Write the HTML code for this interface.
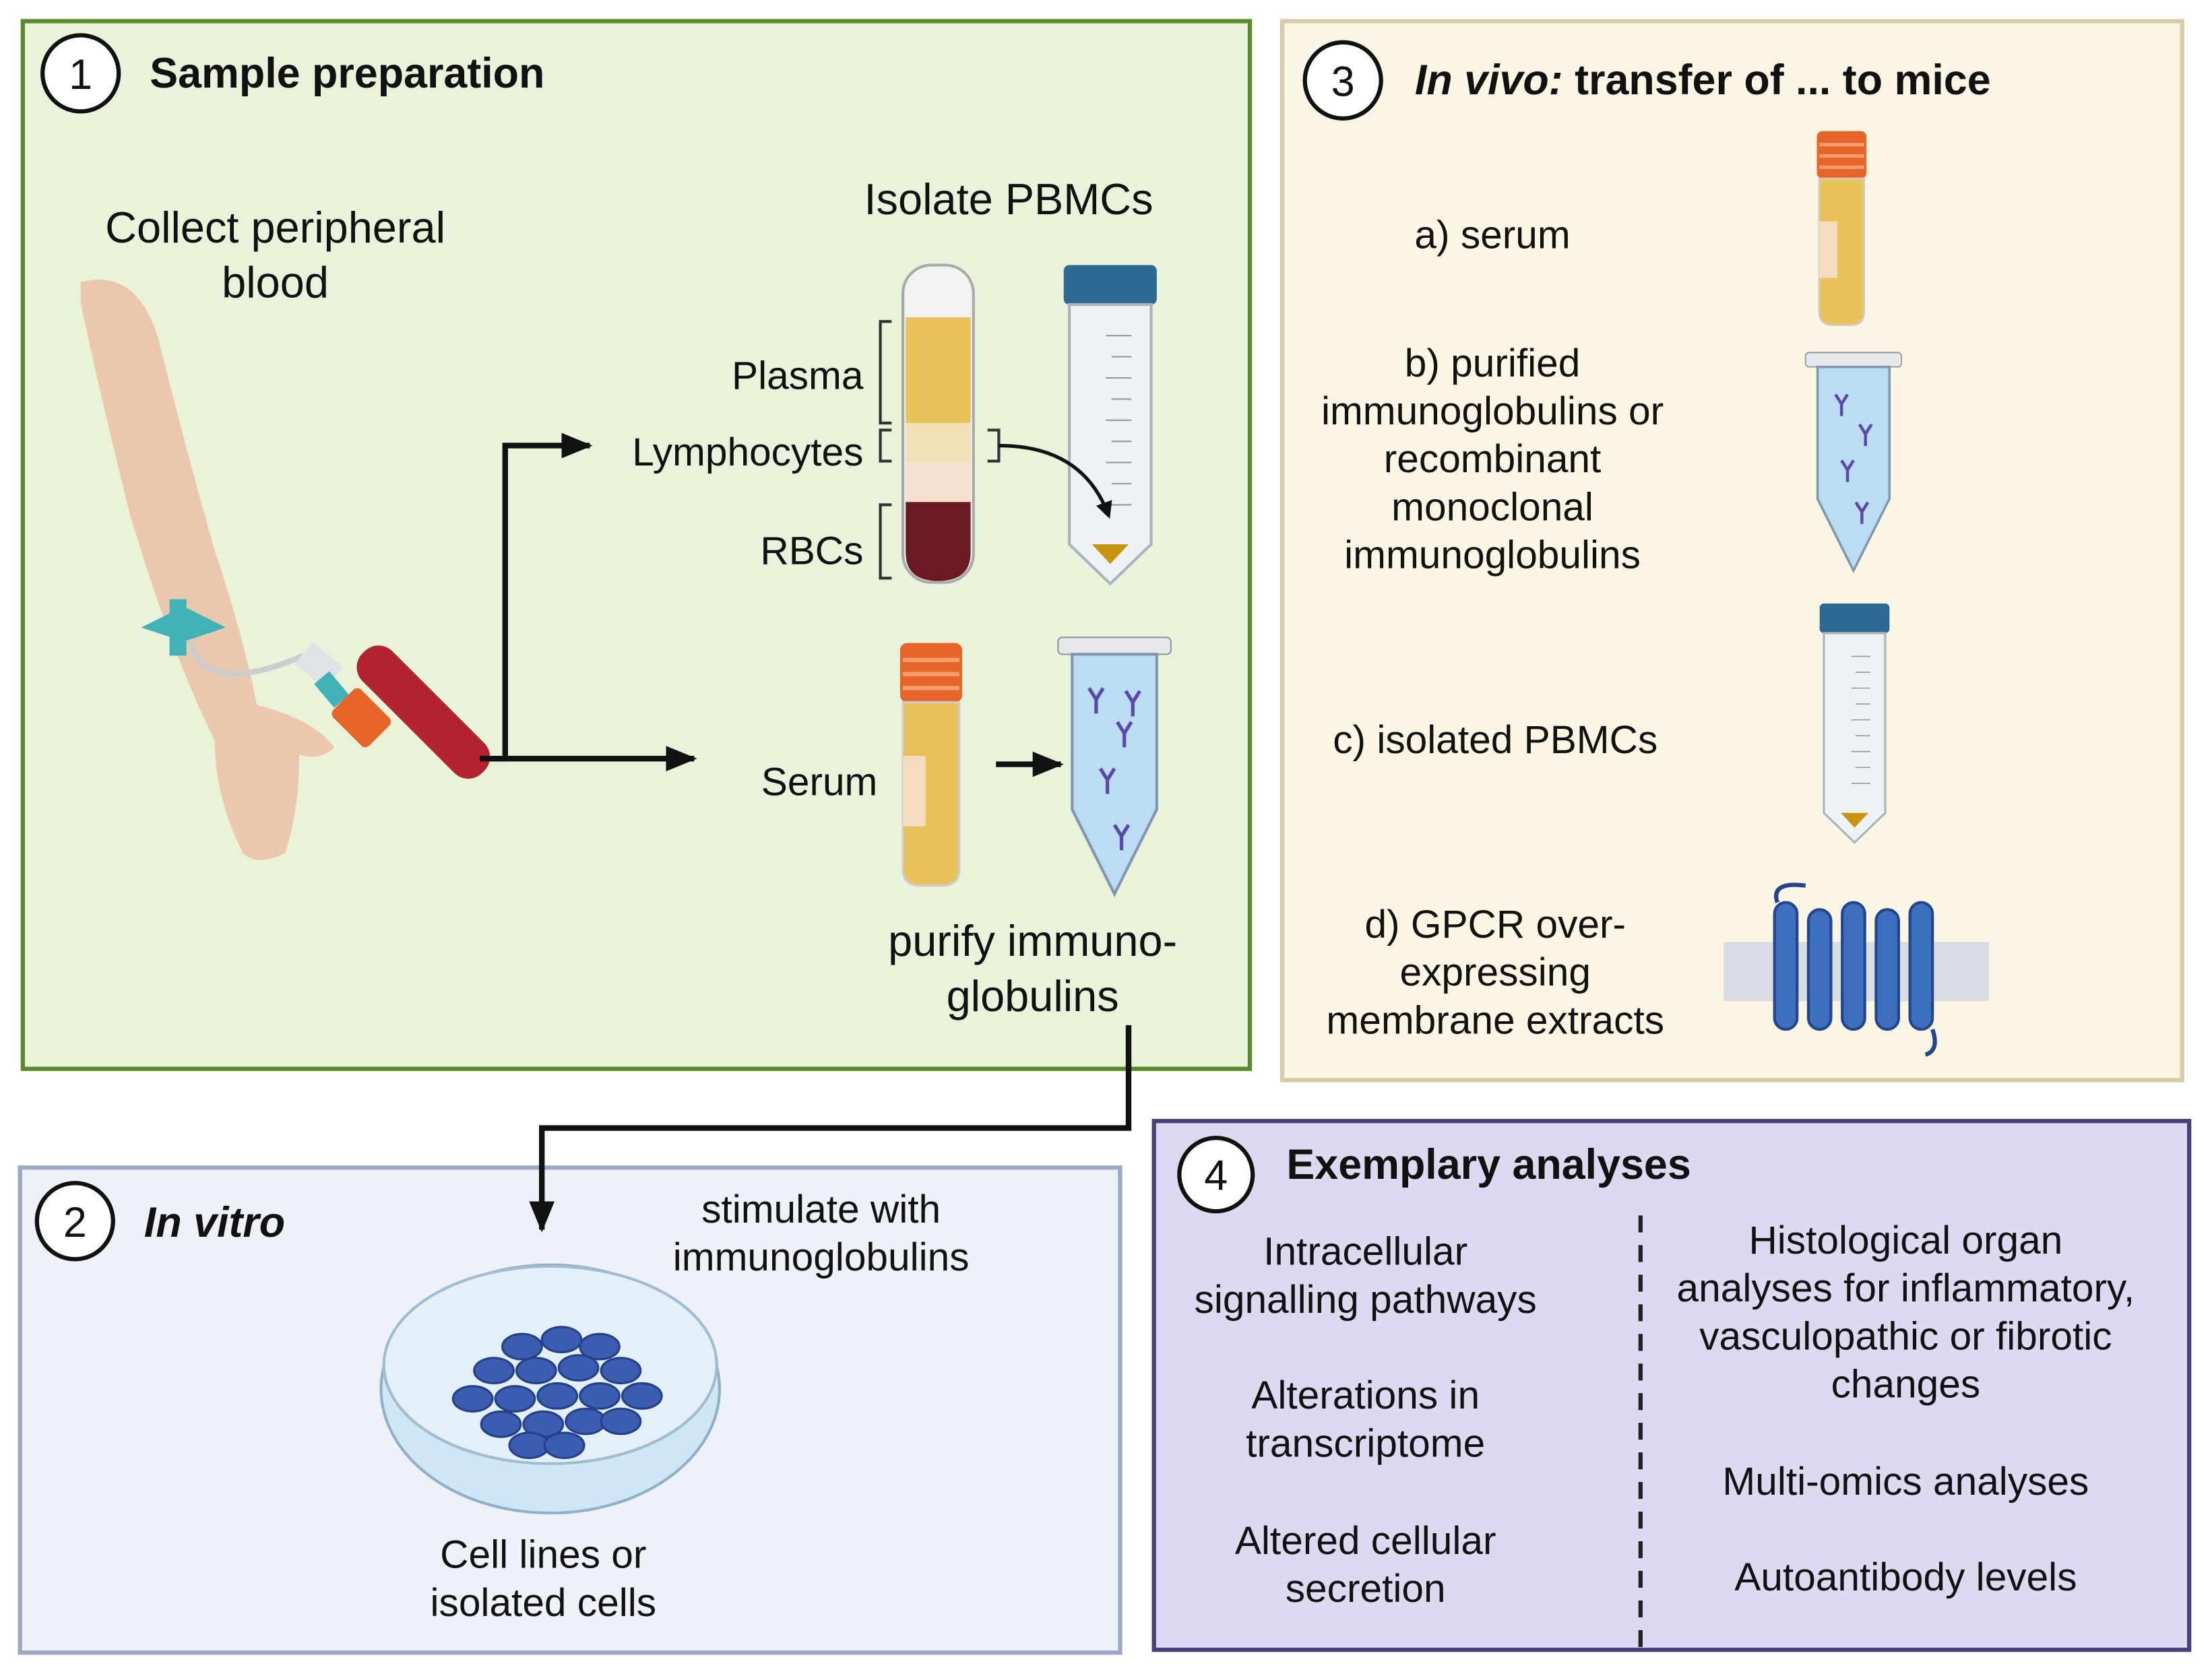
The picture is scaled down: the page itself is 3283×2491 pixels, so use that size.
<!DOCTYPE html>
<html><head><meta charset="utf-8"><style>
html,body{margin:0;padding:0;background:#fff}
svg{display:block}
text{font-family:"Liberation Sans",sans-serif;fill:#111}
</style></head><body>
<svg width="3283" height="2491" viewBox="0 0 1568 1190" xmlns="http://www.w3.org/2000/svg">
<defs>
<marker id="ah" markerWidth="22" markerHeight="18" refX="20" refY="9" orient="auto" markerUnits="userSpaceOnUse"><path d="M0,0 L22,9 L0,18 z" fill="#111"/></marker>
<marker id="ahs" markerWidth="12" markerHeight="12" refX="10" refY="6" orient="auto" markerUnits="userSpaceOnUse"><path d="M0,0 L12,6 L0,12 z" fill="#111"/></marker>
<g id="ab"><path d="M0,0 l5,8 l5,-8 M5,8 v10" stroke="#5a4aa8" stroke-width="2.5" fill="none"/></g>
<g id="falcon">
<rect x="0" y="0" width="66" height="28" rx="4" fill="#2d6a93"/>
<path d="M4,28 h58 v170 l-29,28 l-29,-28 z" fill="#eef2f5" stroke="#aab4bc" stroke-width="2"/>
<path d="M20,198 h26 l-13,14 z" fill="#c9950f"/>
<g stroke="#8b98a4" stroke-width="1"><line x1="30" y1="50" x2="48" y2="50"/><line x1="34" y1="65" x2="48" y2="65"/><line x1="30" y1="80" x2="48" y2="80"/><line x1="34" y1="95" x2="48" y2="95"/><line x1="30" y1="110" x2="48" y2="110"/><line x1="34" y1="125" x2="48" y2="125"/><line x1="30" y1="140" x2="48" y2="140"/><line x1="34" y1="155" x2="48" y2="155"/><line x1="30" y1="170" x2="48" y2="170"/></g>
</g>
<g id="serumtube">
<rect x="0" y="0" width="44" height="42" rx="5" fill="#e8652a"/>
<path d="M2,12 h40 M2,22 h40 M2,32 h40" stroke="#f3a070" stroke-width="3"/>
<path d="M2,42 h40 v118 q0,12 -12,12 h-16 q-12,0 -12,-12 z" fill="#e9c35a" stroke="#ccc" stroke-width="1.5"/>
<rect x="2" y="80" width="16" height="50" fill="#f5dcc0"/>
</g>
<g id="eppi">
<rect x="0" y="0" width="80" height="12" rx="3" fill="#e6e8ea" stroke="#8b98a4"/>
<path d="M10,12 h60 v110 l-30,60 l-30,-60 z" fill="#bcdcf4" stroke="#7f98b0" stroke-width="2"/>
</g>
</defs>

<!-- Panel 1 -->
<rect x="16" y="15" width="870" height="743" fill="#e8f3d9" stroke="#5a8a2a" stroke-width="3"/>
<circle cx="57" cy="52" r="27" fill="#fff" stroke="#111" stroke-width="3"/>
<text x="57" y="63" font-size="30" text-anchor="middle">1</text>
<text x="106" y="62" font-size="30" font-weight="bold">Sample preparation</text>
<text x="195" y="172" font-size="31" text-anchor="middle">Collect peripheral</text>
<text x="195" y="211" font-size="31" text-anchor="middle">blood</text>
<text x="715" y="152" font-size="31" text-anchor="middle">Isolate PBMCs</text>
<!-- arm -->
<path d="M57,200 q40,-10 55,40 q20,80 40,150 q20,60 30,110 q40,10 55,30 q-10,10 -25,5 q0,40 -10,70 q-20,10 -30,0 q-20,-40 -20,-80 q-30,-60 -60,-160 q-20,-80 -35,-150 z" fill="#ebc8ad"/>
<path d="M100,445 l30,-15 l30,15 l-30,10 z" fill="#3fb3b8"/>
<rect x="120" y="425" width="12" height="40" fill="#3fb3b8"/>
<path d="M135,455 q10,40 80,10" fill="none" stroke="#ccc" stroke-width="4"/>
<rect x="212" y="462" width="28" height="20" fill="#dfe3e5" transform="rotate(40 226 472)"/>
<rect x="228" y="478" width="14" height="22" fill="#3fb3b8" transform="rotate(-40 235 489)"/>
<rect x="240" y="490" width="120" height="30" rx="14" fill="#b32230" transform="rotate(45 300 505)"/>
<rect x="238" y="495" width="36" height="28" rx="4" fill="#e8652a" transform="rotate(45 256 509)"/>
<!-- centrifuged tube -->
<rect x="640" y="188" width="50" height="225" rx="20" fill="#f2f2f2" stroke="#aaa" stroke-width="2"/>
<rect x="642" y="225" width="46" height="75" fill="#e9c35a"/>
<rect x="642" y="300" width="46" height="28" fill="#f0e0b5"/>
<rect x="642" y="328" width="46" height="28" fill="#f8e0cf"/>
<path d="M642,356 h46 v36 q0,20 -23,20 q-23,0 -23,-20 z" fill="#6a1a20"/>
<path d="M632,228 h-8 v72 h8 M632,305 h-8 v22 h8 M632,358 h-8 v52 h8 M700,305 h8 v22 h-8" fill="none" stroke="#333" stroke-width="2"/>
<text x="612" y="276" font-size="28" text-anchor="end">Plasma</text>
<text x="612" y="330" font-size="28" text-anchor="end">Lymphocytes</text>
<text x="612" y="400" font-size="28" text-anchor="end">RBCs</text>
<use href="#falcon" x="754" y="188"/>
<path d="M708,316 q60,0 78,50" fill="none" stroke="#111" stroke-width="2.5" marker-end="url(#ahs)"/>
<use href="#serumtube" x="638" y="456"/>
<text x="622" y="564" font-size="28" text-anchor="end">Serum</text>
<use href="#eppi" x="750" y="452"/>
<use href="#ab" x="772" y="488"/><use href="#ab" x="792" y="512"/><use href="#ab" x="780" y="545"/><use href="#ab" x="790" y="585"/><use href="#ab" x="798" y="490"/>
<text x="732" y="678" font-size="31" text-anchor="middle">purify immuno-</text>
<text x="732" y="717" font-size="31" text-anchor="middle">globulins</text>

<!-- Panel 3 -->
<rect x="909" y="15" width="638" height="751" fill="#fbf6e3" stroke="#d6cba6" stroke-width="3"/>
<circle cx="952" cy="57" r="27" fill="#fff" stroke="#111" stroke-width="3"/>
<text x="952" y="68" font-size="30" text-anchor="middle">3</text>
<text x="1003" y="67" font-size="30" font-weight="bold"><tspan font-style="italic">In vivo:</tspan> transfer of ... to mice</text>
<text x="1058" y="176" font-size="28" text-anchor="middle">a) serum</text>
<use href="#serumtube" transform="translate(1288 93) scale(0.8)"/>
<text x="1058" y="267" font-size="28" text-anchor="middle">b) purified</text>
<text x="1058" y="301" font-size="28" text-anchor="middle">immunoglobulins or</text>
<text x="1058" y="335" font-size="28" text-anchor="middle">recombinant</text>
<text x="1058" y="369" font-size="28" text-anchor="middle">monoclonal</text>
<text x="1058" y="403" font-size="28" text-anchor="middle">immunoglobulins</text>
<g transform="translate(1280 250) scale(0.85)"><use href="#eppi"/><use href="#ab" x="25" y="35"/><use href="#ab" x="45" y="60"/><use href="#ab" x="30" y="90"/><use href="#ab" x="42" y="125"/></g>
<text x="1060" y="534" font-size="28" text-anchor="middle">c) isolated PBMCs</text>
<g transform="translate(1290 428) scale(0.75)"><use href="#falcon"/></g>
<text x="1060" y="665" font-size="28" text-anchor="middle">d) GPCR over-</text>
<text x="1060" y="699" font-size="28" text-anchor="middle">expressing</text>
<text x="1060" y="733" font-size="28" text-anchor="middle">membrane extracts</text>
<rect x="1222" y="668" width="188" height="42" fill="#d8dde3"/>
<g fill="#3d6fbf" stroke="#23468a" stroke-width="2">
<rect x="1258" y="640" width="16" height="90" rx="8"/><rect x="1282" y="645" width="16" height="85" rx="8"/><rect x="1306" y="640" width="16" height="90" rx="8"/><rect x="1330" y="645" width="16" height="85" rx="8"/><rect x="1354" y="640" width="16" height="90" rx="8"/>
</g>
<path d="M1260,640 q-5,-15 20,-12" fill="none" stroke="#23468a" stroke-width="3"/>
<path d="M1370,730 q5,15 -5,18" fill="none" stroke="#23468a" stroke-width="3"/>

<!-- Panel 2 -->
<rect x="14" y="828" width="780" height="344" fill="#eef1f8" stroke="#9ba7c9" stroke-width="3"/>
<circle cx="53" cy="866" r="27" fill="#fff" stroke="#111" stroke-width="3"/>
<text x="53" y="877" font-size="30" text-anchor="middle">2</text>
<text x="102" y="877" font-size="30" font-weight="bold" font-style="italic">In vitro</text>
<text x="582" y="867" font-size="28" text-anchor="middle">stimulate with</text>
<text x="582" y="901" font-size="28" text-anchor="middle">immunoglobulins</text>
<ellipse cx="390" cy="985" rx="120" ry="88" fill="#cfe6f4" stroke="#8fb0c8" stroke-width="2"/>
<ellipse cx="390" cy="968" rx="118" ry="70" fill="#e3f0f8" stroke="#9fbcd0" stroke-width="2"/>
<g fill="#3b5cb0" stroke="#23408a" stroke-width="1.5">
<ellipse cx="370" cy="955" rx="14" ry="9"/><ellipse cx="398" cy="950" rx="14" ry="9"/><ellipse cx="425" cy="955" rx="14" ry="9"/><ellipse cx="350" cy="972" rx="14" ry="9"/><ellipse cx="380" cy="972" rx="14" ry="9"/><ellipse cx="410" cy="970" rx="14" ry="9"/><ellipse cx="440" cy="972" rx="14" ry="9"/><ellipse cx="335" cy="992" rx="14" ry="9"/><ellipse cx="365" cy="992" rx="14" ry="9"/><ellipse cx="395" cy="990" rx="14" ry="9"/><ellipse cx="425" cy="990" rx="14" ry="9"/><ellipse cx="455" cy="990" rx="14" ry="9"/><ellipse cx="355" cy="1010" rx="14" ry="9"/><ellipse cx="385" cy="1010" rx="14" ry="9"/><ellipse cx="415" cy="1008" rx="14" ry="9"/><ellipse cx="440" cy="1008" rx="14" ry="9"/><ellipse cx="375" cy="1025" rx="14" ry="9"/><ellipse cx="400" cy="1025" rx="14" ry="9"/>
</g>
<text x="385" y="1112" font-size="28" text-anchor="middle">Cell lines or</text>
<text x="385" y="1146" font-size="28" text-anchor="middle">isolated cells</text>

<!-- Panel 4 -->
<rect x="818" y="795" width="734" height="375" fill="#dcdaf0" stroke="#4a3f7a" stroke-width="3"/>
<circle cx="862" cy="833" r="26" fill="#fff" stroke="#111" stroke-width="3"/>
<text x="862" y="844" font-size="30" text-anchor="middle">4</text>
<text x="912" y="836" font-size="30" font-weight="bold">Exemplary analyses</text>
<line x1="1163" y1="862" x2="1163" y2="1168" stroke="#222" stroke-width="3" stroke-dasharray="12,9"/>
<g font-size="28">
<text x="968" y="897" text-anchor="middle">Intracellular</text>
<text x="968" y="931" text-anchor="middle">signalling pathways</text>
<text x="968" y="999" text-anchor="middle">Alterations in</text>
<text x="968" y="1033" text-anchor="middle">transcriptome</text>
<text x="968" y="1102" text-anchor="middle">Altered cellular</text>
<text x="968" y="1136" text-anchor="middle">secretion</text>
<text x="1351" y="889" text-anchor="middle">Histological organ</text>
<text x="1351" y="923" text-anchor="middle">analyses for inflammatory,</text>
<text x="1351" y="957" text-anchor="middle">vasculopathic or fibrotic</text>
<text x="1351" y="991" text-anchor="middle">changes</text>
<text x="1351" y="1060" text-anchor="middle">Multi-omics analyses</text>
<text x="1351" y="1128" text-anchor="middle">Autoantibody levels</text>
</g>

<!-- connectors on top -->
<path d="M340,538 H358 V316 H418" fill="none" stroke="#111" stroke-width="4" marker-end="url(#ah)"/>
<path d="M340,538 H492" fill="none" stroke="#111" stroke-width="4" marker-end="url(#ah)"/>
<path d="M706,542 H752" fill="none" stroke="#111" stroke-width="4" marker-end="url(#ah)"/>
<path d="M800,727 V800 H384 V872" fill="none" stroke="#111" stroke-width="4" marker-end="url(#ah)"/>
</svg>
</body></html>
